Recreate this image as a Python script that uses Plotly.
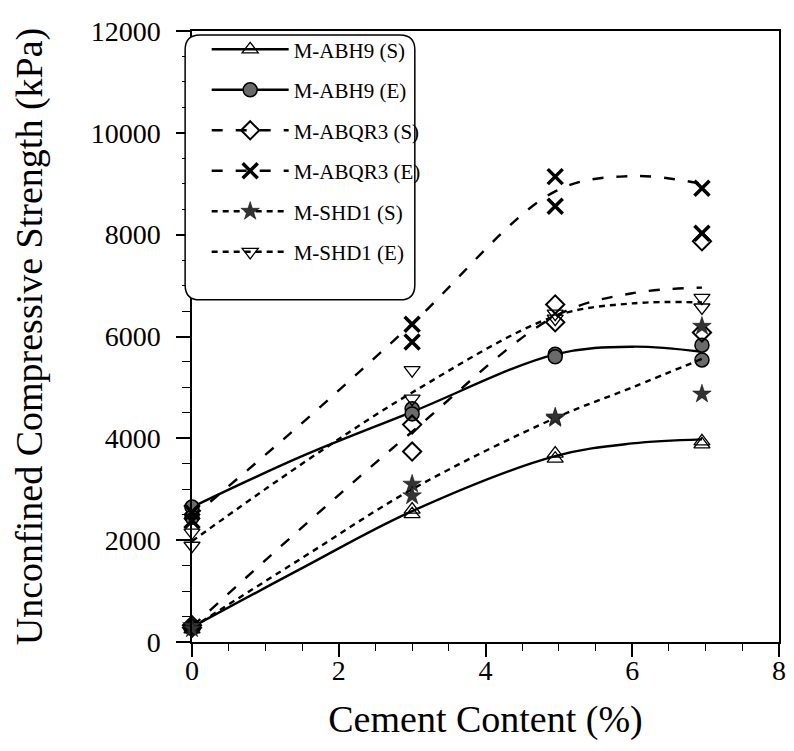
import plotly.graph_objects as go

# ---- data ----
series_names = ["M-ABH9 (S)", "M-ABH9 (E)", "M-ABQR3 (S)", "M-ABQR3 (E)", "M-SHD1 (S)", "M-SHD1 (E)"]

# measured points (two replicates per cement content)
x_points = [0, 0, 3, 3, 4.95, 4.95, 6.95, 6.95]
abh9_s_pts = [300, 250, 2510, 2600, 3700, 3600, 3940, 3880]
abh9_e_pts = [2650, 2450, 4580, 4480, 5650, 5600, 5830, 5540]
abqr3_s_pts = [330, 280, 4270, 3740, 6630, 6280, 6080, 7870]
abqr3_e_pts = [2550, 2380, 6240, 5890, 9140, 8560, 8910, 8030]
shd1_s_pts = [320, 260, 3100, 2870, 4390, 4420, 6200, 4870]
shd1_e_pts = [1890, 2150, 5340, 4780, 6450, 6350, 6760, 6570]

# fitted trend curves
x_curve = [0, 1.5, 3, 4.95, 6, 6.95]
abh9_s_curve = [290, 1450, 2570, 3650, 3900, 3980]
abh9_e_curve = [2650, 3650, 4520, 5650, 5800, 5700]
abqr3_s_curve = [300, 2250, 4130, 6400, 6850, 6960]
abqr3_e_curve = [2450, 4300, 6250, 8850, 9150, 9000]
shd1_s_curve = [280, 1650, 3000, 4400, 5000, 5560]
shd1_e_curve = [1980, 3500, 4900, 6400, 6650, 6670]

x_ticks = [0, 2, 4, 6, 8]
y_ticks = [0, 2000, 4000, 6000, 8000, 10000, 12000]
y_tick_labels = ["0", "2000", "4000", "6000", "8000", "10000", "12000"]

points = [abh9_s_pts, abh9_e_pts, abqr3_s_pts, abqr3_e_pts, shd1_s_pts, shd1_e_pts]
curves = [abh9_s_curve, abh9_e_curve, abqr3_s_curve, abqr3_e_curve, shd1_s_curve, shd1_e_curve]

# ---- styles ----
FONT = "Liberation Serif"
dashes = ["solid", "solid", "11px,13px", "11px,13px", "6px,5px", "6px,5px"]
markers = [
    dict(symbol="triangle-up-open", size=14, color="black", line=dict(width=1.3, color="black")),
    dict(symbol="circle", size=14, color="#6a6a6a", line=dict(width=1.5, color="black")),
    dict(symbol="diamond-open", size=14, color="black", line=dict(width=2, color="black")),
    dict(symbol="x-thin-open", size=15, color="black", line=dict(width=3.5, color="black")),
    dict(symbol="star", size=14, color="#333333", line=dict(width=0.5, color="black")),
    dict(symbol="triangle-down-open", size=14, color="black", line=dict(width=1.3, color="black")),
]

fig = go.Figure()
for i, name in enumerate(series_names):
    line = dict(color="black", width=2.4, dash=dashes[i], shape="spline", smoothing=1.0)
    fig.add_trace(go.Scatter(x=x_curve, y=curves[i], mode="lines", line=line,
                             showlegend=False, legendgroup=name, hoverinfo="skip"))
    fig.add_trace(go.Scatter(x=x_points, y=points[i], mode="markers", marker=markers[i],
                             showlegend=False, legendgroup=name, name=name, cliponaxis=False))
    # legend-only entry (line + marker)
    fig.add_trace(go.Scatter(x=[None], y=[None], mode="lines+markers", name=name,
                             line=dict(color="black", width=2.4, dash=dashes[i]),
                             marker=markers[i], legendgroup=name, showlegend=True))

# rounded legend frame
L, R, T, B = -0.0117, 0.3796, 0.9935, 0.560
rx, ry = 15 / 598, 15 / 616
path = (f"M {L+rx},{T} L {R-rx},{T} Q {R},{T} {R},{T-ry} L {R},{B+ry} Q {R},{B} {R-rx},{B} "
        f"L {L+rx},{B} Q {L},{B} {L},{B+ry} L {L},{T-ry} Q {L},{T} {L+rx},{T} Z")
fig.add_shape(type="path", path=path, xref="paper", yref="paper",
              line=dict(color="black", width=1.5), fillcolor="white", layer="above")

axis_common = dict(showline=True, linecolor="black", linewidth=1.5, mirror=True,
                   showgrid=False, zeroline=False, ticks="outside", tickcolor="black",
                   tickwidth=1.5, tickfont=dict(family=FONT, size=28, color="black"))

fig.update_layout(
    width=786, height=743,
    margin=dict(l=180, r=8, t=18, b=109),
    paper_bgcolor="white", plot_bgcolor="white",
    font=dict(family=FONT, color="black"),
    xaxis=dict(range=[0, 8], tickvals=x_ticks, ticklen=13, ticklabelstandoff=-10,
               minor=dict(dtick=0.5, ticks="outside", ticklen=7, tickcolor="black", tickwidth=1.3),
               title=dict(text="Cement Content (%)", font=dict(family=FONT, size=38), standoff=20),
               **axis_common),
    yaxis=dict(range=[0, 12000], tickvals=y_ticks, ticktext=y_tick_labels, ticklen=14,
               ticklabelstandoff=10,
               minor=dict(dtick=500, ticks="outside", ticklen=8, tickcolor="black", tickwidth=1.3),
               title=dict(text="Unconfined Compressive Strength (kPa)", font=dict(family=FONT, size=38),
                          standoff=48),
               **axis_common),
    legend=dict(x=0.025, y=1.003, xanchor="left", yanchor="top",
                bgcolor="rgba(0,0,0,0)", borderwidth=0,
                font=dict(family=FONT, size=21, color="black"),
                traceorder="grouped", tracegroupgap=10.2, itemwidth=77),
)

fig.write_html("out.html")
